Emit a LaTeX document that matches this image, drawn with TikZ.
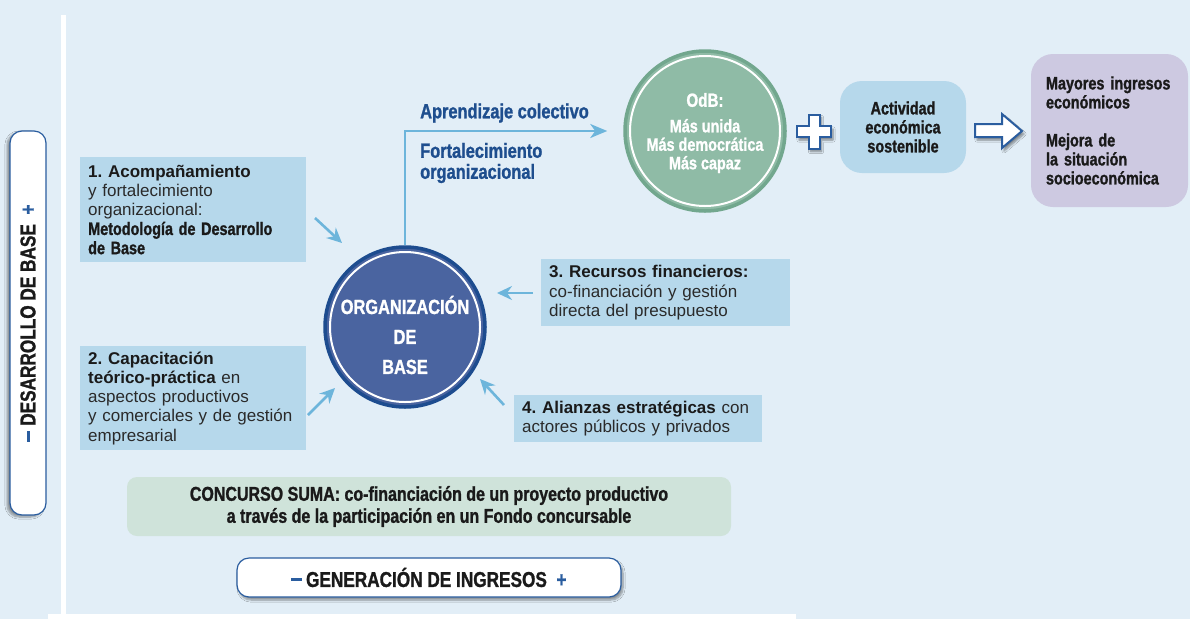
\documentclass[tikz,border=0pt]{standalone}
\usepackage{fontspec}
\setmainfont{Liberation Sans}
\newfontfamily\cond[FakeStretch=0.8, BoldFeatures={FakeBold=1.2}]{Liberation Sans}
\usetikzlibrary{arrows.meta,shadows.blur,positioning}
\frenchspacing
\definecolor{bgblue}{HTML}{E2EEF7}
\definecolor{boxblue}{HTML}{B6D8EB}
\definecolor{pillblue}{HTML}{2A5D9F}
\definecolor{headblue}{HTML}{1E4E8E}
\definecolor{orgfill}{HTML}{4A64A0}
\definecolor{orgborder}{HTML}{1D4C8F}
\definecolor{odbfill}{HTML}{8FBBA6}
\definecolor{odbborder}{HTML}{72A78E}
\definecolor{arrowblue}{HTML}{6DB5DB}
\definecolor{purplefill}{HTML}{CDC9E1}
\definecolor{greenfill}{HTML}{CFE3DA}
\definecolor{inkblack}{HTML}{1A1A1A}
\definecolor{inkgray}{HTML}{2A2A2A}
\newcommand{\pillminus}{\textcolor{pillblue}{\rule[5.5pt]{11pt}{3.2pt}}}
\begin{document}
\begin{tikzpicture}[x=1pt,y=-1pt]
    \tikzstyle{infobox} = [fill=boxblue, anchor=north west, inner xsep=8pt, inner ysep=4pt, align=left, text=inkgray, font=\fontsize{17}{19.2}\selectfont]
    \tikzstyle{pill} = [draw=pillblue, line width=1.2pt, fill=white, rounded corners=12pt, text=inkblack, font=\cond\bfseries\fontsize{21.5}{24}\selectfont]
    \tikzstyle{feed} = [draw=arrowblue, line width=2.6pt, -{Stealth[length=15pt,width=14pt,inset=5pt]}]
    \tikzstyle{heading} = [text=headblue, anchor=west, align=left, inner sep=0pt, font=\cond\bfseries\fontsize{20.5}{21}\selectfont]
    \tikzstyle{hollow} = [draw=pillblue, line width=2pt, fill=white, line join=miter, blur shadow={shadow xshift=2pt, shadow yshift=-3pt, shadow blur steps=6, shadow opacity=45}]
    \tikzstyle{condtext} = [text=inkblack, font=\cond\bfseries\fontsize{18}{19}\selectfont]
    \useasboundingbox (0,0) rectangle (1190,619);
    \fill[bgblue] (0,0) rectangle (1190,619);
    \fill[white] (61,15) rectangle (66,619);
    \fill[white] (48,614) rectangle (796,619);

    \node[pill, rotate=90, minimum width=384pt, minimum height=36pt,
      blur shadow={shadow xshift=-3pt, shadow yshift=-2pt, shadow blur steps=6, shadow opacity=40}]
      (devbar) at (28,323) {\pillminus~DESARROLLO DE BASE~~{\color{pillblue}+}};

    \node[infobox, text width=210pt, minimum height=105pt] (step1) at (80,157)
      {\textbf{\color{inkblack}1. Acompañamiento}\\y fortalecimiento\\organizacional:\\
       {\cond\bfseries\color{inkblack}\fontsize{18}{19.2}\selectfont Metodología de Desarrollo}\\
       {\cond\bfseries\color{inkblack}\fontsize{18}{19.2}\selectfont de Base}};
    \node[infobox, text width=210pt, minimum height=104pt] (step2) at (80,346)
      {\textbf{\color{inkblack}2. Capacitación}\\\textbf{\color{inkblack}teórico-práctica} en\\aspectos productivos\\y comerciales y de gestión\\empresarial};
    \node[infobox, text width=233pt, minimum height=67pt] (step3) at (541,259)
      {\textbf{\color{inkblack}3. Recursos financieros:}\\co-financiación y gestión\\directa del presupuesto};
    \node[infobox, text width=232pt, minimum height=47pt] (step4) at (514,395)
      {\textbf{\color{inkblack}4. Alianzas estratégicas} con\\actores públicos y privados};

    \node[circle, fill=orgfill, draw=orgborder, line width=3.5pt, minimum size=160pt,
      label={[yshift=-8pt, align=center, text=white, font=\cond\bfseries\fontsize{20.5}{30}\selectfont]center:{ORGANIZACIÓN\\DE\\BASE}}]
      (org) at (405,327) {};
    \draw[white, line width=2pt] (org.center) circle[radius=75pt];

    \node[circle, fill=odbfill, draw=odbborder, line width=3.5pt, minimum size=160pt,
      label={[yshift=-2pt, align=center, text=white, font=\cond\bfseries\fontsize{18}{18.5}\selectfont]center:{{\fontsize{19}{20}\selectfont OdB:}\\[7pt]Más unida\\Más democrática\\Más capaz}}]
      (odb) at (705,131) {};
    \draw[white, line width=2pt] (odb.center) circle[radius=75pt];

    \draw[feed, -{Stealth[length=17pt,width=14pt,inset=5pt]}] (org.north) |- ([xshift=-16pt]odb.west);
    \node[heading] (learn) at (420,113) {Aprendizaje colectivo};
    \node[heading] (strength) at (420,163) {Fortalecimiento\\organizacional};

    \coordinate (in1a) at (315,218);
    \coordinate (in1b) at (342,243);
    \coordinate (in2a) at (308,415);
    \coordinate (in2b) at (335,388);
    \coordinate (in3a) at (533,293);
    \coordinate (in3b) at (497,293);
    \coordinate (in4a) at (504,405);
    \coordinate (in4b) at (480,379);
    \draw[feed] (in1a) -- (in1b);
    \draw[feed] (in2a) -- (in2b);
    \draw[feed] (in3a) -- (in3b);
    \draw[feed] (in4a) -- (in4b);

    \filldraw[hollow] (808.5,114.5) -- (819.5,114.5) -- (819.5,126) -- (831,126) -- (831,137) -- (819.5,137)
      -- (819.5,148.5) -- (808.5,148.5) -- (808.5,137) -- (797,137) -- (797,126) -- (808.5,126) -- cycle;

    \node[condtext, fill=boxblue, rounded corners=22pt, minimum width=126pt, minimum height=92pt, align=center]
      (activity) at (903,127) {Actividad\\económica\\sostenible};

    \filldraw[hollow] (975,124) -- (1002,124) -- (1002,114) -- (1022,131) -- (1002,148) -- (1002,137) -- (975,137) -- cycle;

    \node[condtext, fill=purplefill, rounded corners=22pt, minimum width=157pt, minimum height=153pt,
      text width=127pt, align=left] (result) at (1109.5,130.5)
      {Mayores ingresos\\económicos\\[19pt]Mejora de\\la situación\\socioeconómica};

    \node[condtext, fill=greenfill, rounded corners=10pt, minimum width=604pt, minimum height=59pt, align=center,
      font=\cond\bfseries\fontsize{20}{22}\selectfont] (contest) at (429,506.5)
      {CONCURSO SUMA: co-financiación de un proyecto productivo\\a través de la participación en un Fondo concursable};

    \node[pill, minimum width=384pt, minimum height=39pt,
      blur shadow={shadow xshift=2pt, shadow yshift=-3pt, shadow blur steps=6, shadow opacity=40}]
      (income) at (429,577.5) {\pillminus\,GENERACIÓN DE INGRESOS~~{\color{pillblue}+}};
\end{tikzpicture}
\end{document}
